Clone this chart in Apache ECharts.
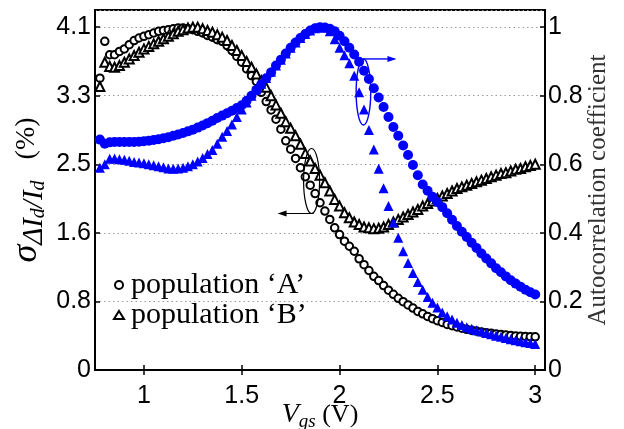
<!DOCTYPE html>
<html>
<head>
<meta charset="utf-8">
<script src="https://cdn.jsdelivr.net/npm/echarts@6/dist/echarts.min.js"></script>
<style>html,body{margin:0;padding:0;background:#fff;}#c{width:624px;height:429px;}</style>
</head>
<body>
<div id="c"></div>
<script>
// Gate-source voltage samples (V)
const vgs = [0.775,0.8,0.825,0.85,0.875,0.9,0.925,0.95,0.975,1.0,
  1.025,1.05,1.075,1.1,1.125,1.15,1.175,1.2,1.225,1.25,
  1.275,1.3,1.325,1.35,1.375,1.4,1.425,1.45,1.475,1.5,
  1.525,1.55,1.575,1.6,1.625,1.65,1.675,1.7,1.725,1.75,
  1.775,1.8,1.825,1.85,1.875,1.9,1.925,1.95,1.975,2.0,
  2.025,2.05,2.075,2.1,2.125,2.15,2.175,2.2,2.225,2.25,
  2.275,2.3,2.325,2.35,2.375,2.4,2.425,2.45,2.475,2.5,
  2.525,2.55,2.575,2.6,2.625,2.65,2.675,2.7,2.725,2.75,
  2.775,2.8,2.825,2.85,2.875,2.9,2.925,2.95,2.975,3.0];
// sigma(dId/Id) in %, population A (left axis)
const sigmaA = [3.49,3.93,3.77,3.77,3.81,3.84,3.89,3.94,3.97,3.99,
  4.01,4.03,4.05,4.06,4.07,4.08,4.09,4.09,4.08,4.07,
  4.05,4.03,4.00,3.98,3.95,3.93,3.88,3.82,3.75,3.68,
  3.60,3.52,3.45,3.32,3.21,3.11,3.00,2.88,2.74,2.64,
  2.53,2.42,2.31,2.21,2.11,2.00,1.90,1.80,1.70,1.62,
  1.54,1.48,1.42,1.33,1.26,1.19,1.12,1.07,1.01,0.955,
  0.905,0.857,0.817,0.778,0.740,0.700,0.672,0.641,0.614,0.590,
  0.568,0.545,0.530,0.515,0.500,0.487,0.475,0.465,0.455,0.446,
  0.438,0.431,0.425,0.419,0.413,0.408,0.404,0.401,0.399,0.397];
// sigma(dId/Id) in %, population B (left axis)
const sigmaB = [3.39,3.68,3.63,3.62,3.64,3.68,3.72,3.76,3.80,3.84,
  3.87,3.90,3.93,3.96,3.99,4.02,4.05,4.07,4.09,4.10,
  4.10,4.08,4.06,4.04,4.01,3.98,3.94,3.88,3.82,3.76,
  3.69,3.62,3.54,3.46,3.38,3.28,3.17,3.07,2.97,2.89,
  2.80,2.70,2.59,2.50,2.41,2.33,2.24,2.14,2.04,1.96,
  1.88,1.82,1.77,1.74,1.71,1.70,1.69,1.695,1.71,1.74,
  1.77,1.80,1.83,1.86,1.89,1.92,1.96,1.99,2.02,2.05,
  2.08,2.11,2.14,2.17,2.19,2.21,2.23,2.25,2.27,2.29,
  2.31,2.33,2.35,2.36,2.38,2.40,2.41,2.43,2.445,2.46];
// autocorrelation coefficient, population A (right axis)
const acorrA = [0.672,0.660,0.664,0.665,0.665,0.665,0.665,0.665,0.666,0.667,
  0.669,0.671,0.673,0.676,0.679,0.683,0.687,0.691,0.696,0.701,
  0.707,0.713,0.720,0.727,0.735,0.742,0.749,0.756,0.764,0.772,
  0.785,0.800,0.817,0.833,0.851,0.868,0.888,0.905,0.923,0.940,
  0.955,0.968,0.980,0.990,0.997,1.000,0.999,0.995,0.988,0.975,
  0.959,0.940,0.920,0.899,0.873,0.849,0.822,0.795,0.767,0.738,
  0.709,0.683,0.655,0.627,0.598,0.568,0.541,0.523,0.505,0.490,
  0.475,0.457,0.438,0.420,0.403,0.388,0.371,0.356,0.340,0.325,
  0.311,0.297,0.285,0.273,0.262,0.252,0.243,0.234,0.227,0.220];
// autocorrelation coefficient, population B (right axis)
const acorrB = [0.590,0.600,0.616,0.617,0.615,0.613,0.610,0.607,0.605,0.603,
  0.600,0.597,0.594,0.591,0.588,0.587,0.588,0.590,0.594,0.600,
  0.608,0.618,0.630,0.642,0.660,0.680,0.697,0.716,0.738,0.760,
  0.780,0.800,0.818,0.835,0.852,0.870,0.888,0.905,0.923,0.940,
  0.955,0.968,0.980,0.990,0.997,1.000,0.998,0.988,0.965,0.940,
  0.918,0.895,0.858,0.810,0.760,0.700,0.643,0.587,0.530,0.478,
  0.430,0.386,0.346,0.312,0.283,0.257,0.234,0.213,0.196,0.182,
  0.168,0.157,0.147,0.138,0.131,0.125,0.120,0.116,0.112,0.108,
  0.104,0.100,0.097,0.093,0.090,0.087,0.084,0.081,0.079,0.076];
const xTicks = [1, 1.5, 2, 2.5, 3];
const leftTickStep = 0.82;   // labelled 0, 0.8, 1.6, 2.5, 3.3, 4.1
const rightTickStep = 0.2;
const legendNames = ['population \u2018A\u2019', 'population \u2018B\u2019'];

const pairs = arr => vgs.map((x, i) => [x, arr[i]]);
const chart = echarts.init(document.getElementById('c'), null, {renderer: 'canvas'});
const tickFont = {fontFamily: 'Liberation Sans, Arial, sans-serif', fontSize: 25, color: '#000'};
const serif = 'Liberation Serif, Times New Roman, serif';

chart.setOption({
  animation: false,
  backgroundColor: '#fff',
  grid: {left: 95, right: 79, top: 10, bottom: 59, outerBoundsMode: 'none', containLabel: false,
    show: true, borderColor: '#000', borderWidth: 2, backgroundColor: 'transparent'},
  legend: {
    data: legendNames, orient: 'vertical', left: 108, top: 265, itemGap: 0,
    itemWidth: 10, itemHeight: 8,
    textStyle: {fontFamily: serif, fontSize: 30, color: '#000', padding: [0, 0, 0, 2]}
  },
  xAxis: [{
    type: 'value', min: 0.75, max: 3.05, position: 'bottom', z: 5,
    axisLine: {lineStyle: {color: '#000', width: 2}},
    axisTick: {inside: true, length: 5, customValues: xTicks, lineStyle: {color: '#000', width: 1.5}},
    axisLabel: Object.assign({customValues: xTicks, margin: 14, formatter: v => String(v)}, tickFont),
    splitLine: {show: false},
    name: '{v|V}{sub|gs}{n| (V)}', nameLocation: 'middle', nameGap: 29, nameMoveOverlap: false,
    nameTextStyle: {rich: {
      v: {fontFamily: serif, fontStyle: 'italic', fontSize: 28, color: '#000', lineHeight: 32, verticalAlign: 'middle'},
      sub: {fontFamily: serif, fontStyle: 'italic', fontSize: 19, color: '#000', lineHeight: 24, verticalAlign: 'bottom'},
      n: {fontFamily: serif, fontSize: 26, color: '#000', lineHeight: 32, verticalAlign: 'middle'}
    }}
  }, {
    type: 'value', min: 0.75, max: 3.05, position: 'top', z: 5,
    axisLine: {show: true, lineStyle: {color: '#000', width: 2}},
    axisTick: {inside: true, length: 5, customValues: xTicks, lineStyle: {color: '#000', width: 1.5}},
    axisLabel: {show: false}, splitLine: {show: false}
  }],
  yAxis: [{
    type: 'value', min: 0, max: 4.305, interval: leftTickStep, position: 'left',
    axisLine: {show: true, lineStyle: {color: '#000', width: 2}},
    axisTick: {show: true, inside: true, length: 5, lineStyle: {color: '#000', width: 1.5}},
    axisLabel: Object.assign({margin: 4, showMaxLabel: false,
      formatter: v => (v > 4.2 ? '' : (v === 0 ? '0' : v.toFixed(1)))}, tickFont),
    splitLine: {show: true, lineStyle: {color: '#9a9a9a', type: [1.5, 3], width: 1}},
    name: '{s|\u03C3}{sub|\u0394I}{ss|d}{sub|/I}{ss|d}{n|   (%)}', nameLocation: 'middle', nameGap: 46, nameMoveOverlap: false,
    nameTextStyle: {rich: {
      s: {fontFamily: serif, fontStyle: 'italic', fontSize: 36, color: '#000', lineHeight: 44, verticalAlign: 'middle'},
      sub: {fontFamily: serif, fontStyle: 'italic', fontSize: 29, color: '#000', lineHeight: 24, verticalAlign: 'bottom'},
      ss: {fontFamily: serif, fontStyle: 'italic', fontSize: 20, color: '#000', lineHeight: 12, verticalAlign: 'bottom'},
      n: {fontFamily: serif, fontSize: 28, color: '#000', lineHeight: 44, verticalAlign: 'middle'}
    }}
  }, {
    type: 'value', min: 0, max: 1.05, interval: rightTickStep, position: 'right',
    axisLine: {show: true, lineStyle: {color: '#000', width: 2}},
    axisTick: {show: true, inside: true, length: 5, lineStyle: {color: '#000', width: 1.5}},
    axisLabel: Object.assign({margin: 3, showMaxLabel: false,
      formatter: v => (v > 1.01 ? '' : String(+v.toFixed(1)))}, tickFont),
    splitLine: {show: false},
    name: 'Autocorrelation coefficient', nameLocation: 'middle', nameGap: 41, nameMoveOverlap: false,
    nameTextStyle: {fontFamily: serif, fontSize: 25, color: '#333'}
  }],
  series: [
    {name: legendNames[0], type: 'scatter', xAxisIndex: 0, yAxisIndex: 0, data: pairs(sigmaA),
     symbol: 'emptyCircle', symbolSize: 7.5, itemStyle: {color: '#000', borderColor: '#000', borderWidth: 1.8, opacity: 1}, z: 2},
    {name: legendNames[1], type: 'scatter', xAxisIndex: 0, yAxisIndex: 0, data: pairs(sigmaB),
     symbol: 'emptyTriangle', symbolSize: 9, itemStyle: {color: '#000', borderColor: '#000', borderWidth: 1.6, opacity: 1}, z: 2},
    {name: 'acA', type: 'scatter', xAxisIndex: 0, yAxisIndex: 1, data: pairs(acorrA),
     symbol: 'circle', symbolSize: 10, itemStyle: {color: '#0000ff', opacity: 1}, z: 3},
    {name: 'acB', type: 'scatter', xAxisIndex: 0, yAxisIndex: 1, data: pairs(acorrB),
     symbol: 'triangle', symbolSize: 10, itemStyle: {color: '#0000ff', opacity: 1}, z: 4}
  ]
});

// annotation ellipses and arrows (placed in data coordinates)
const pL = chart.convertToPixel({xAxisIndex: 0, yAxisIndex: 0}, [1.857, 2.26]);
const pR = chart.convertToPixel({xAxisIndex: 0, yAxisIndex: 1}, [2.122, 0.811]);
const aL = pL[1] + 32.5, aR = pR[1] - 33;
chart.setOption({
  graphic: [
    {type: 'ellipse', shape: {cx: pL[0], cy: pL[1], rx: 8, ry: 32.5}, style: {fill: 'none', stroke: '#000', lineWidth: 1.2}, z: 10},
    {type: 'line', shape: {x1: pL[0] + 2, y1: aL, x2: pL[0] - 32, y2: aL}, style: {stroke: '#000', lineWidth: 1.2}, z: 10},
    {type: 'polygon', shape: {points: [[pL[0] - 34, aL], [pL[0] - 25, aL - 3], [pL[0] - 25, aL + 3]]}, style: {fill: '#000'}, z: 10},
    {type: 'ellipse', shape: {cx: pR[0], cy: pR[1], rx: 7.3, ry: 33}, style: {fill: 'none', stroke: '#0000ff', lineWidth: 1.4}, z: 10},
    {type: 'line', shape: {x1: pR[0], y1: aR, x2: pR[0] + 31, y2: aR}, style: {stroke: '#0000ff', lineWidth: 1.4}, z: 10},
    {type: 'polygon', shape: {points: [[pR[0] + 33, aR], [pR[0] + 24, aR - 3], [pR[0] + 24, aR + 3]]}, style: {fill: '#0000ff'}, z: 10}
  ]
});
</script>
</body>
</html>
